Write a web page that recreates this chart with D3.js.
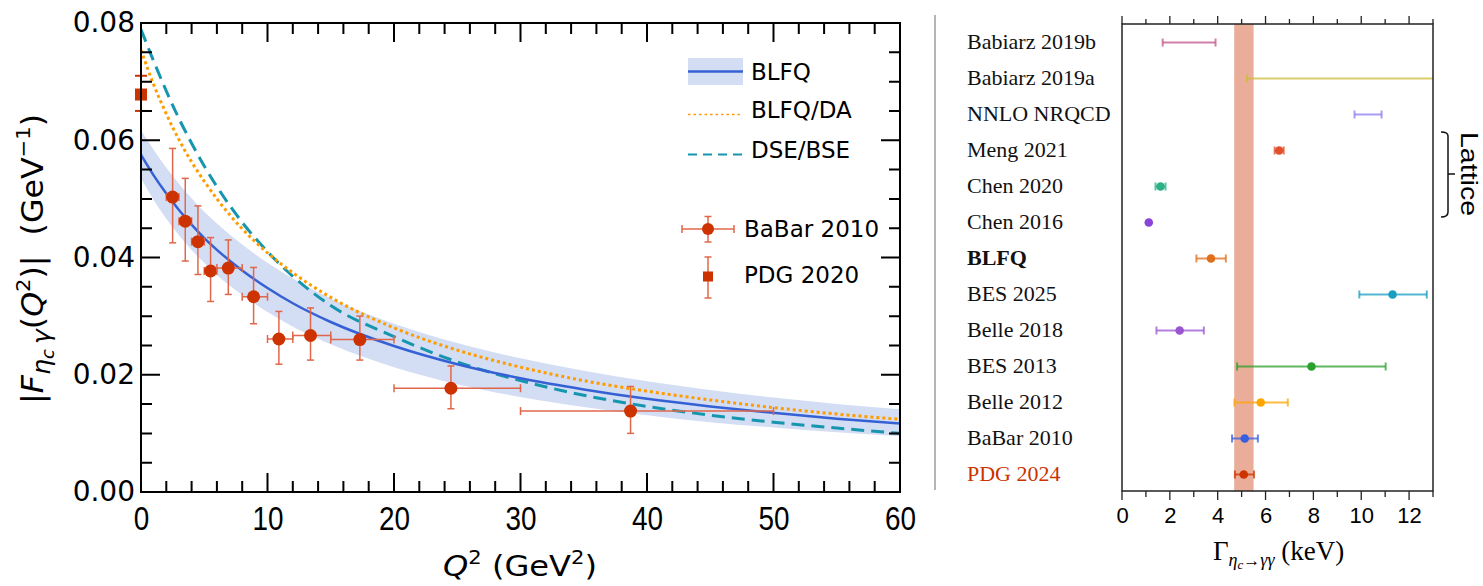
<!DOCTYPE html>
<html>
<head>
<meta charset="utf-8">
<script src="https://cdn.jsdelivr.net/npm/d3@7"></script>
<style>
body { margin:0; background:#fff; }
svg { display:block; }
.sans { font-family: "DejaVu Sans", "Liberation Sans", Arial, sans-serif; }
.serif { font-family: "Liberation Serif", "Times New Roman", serif; }
</style>
</head>
<body>
<svg id="chart" width="1483" height="586"></svg>
<script>

// ---- left panel: form factor vs Q^2 ----
var q2Grid     = [0, 1, 2, 3, 4, 5, 6, 8, 10, 12, 15, 20, 25, 30, 35, 40, 45, 50, 55, 60];
var blfqF      = [0.0575, 0.0540, 0.0509, 0.0481, 0.0456, 0.0433, 0.0413, 0.0378, 0.0348, 0.0322, 0.0290, 0.0249, 0.0218, 0.0194, 0.0175, 0.0159, 0.0146, 0.0135, 0.0125, 0.0117];
var blfqBandHi = [0.0617, 0.0584, 0.0553, 0.0526, 0.0501, 0.0478, 0.0458, 0.0422, 0.0391, 0.0364, 0.0330, 0.0287, 0.0254, 0.0228, 0.0207, 0.0189, 0.0174, 0.0161, 0.0150, 0.0141];
var blfqBandLo = [0.0535, 0.0498, 0.0466, 0.0438, 0.0413, 0.0391, 0.0370, 0.0336, 0.0307, 0.0282, 0.0252, 0.0213, 0.0184, 0.0162, 0.0145, 0.0131, 0.0119, 0.0110, 0.0102, 0.0095];
var blfqDaF    = [0.0754, 0.0695, 0.0645, 0.0601, 0.0563, 0.0530, 0.0500, 0.0449, 0.0408, 0.0374, 0.0332, 0.0280, 0.0242, 0.0213, 0.0190, 0.0172, 0.0157, 0.0144, 0.0133, 0.0124];
var dseBseF    = [0.0789, 0.0735, 0.0684, 0.0637, 0.0595, 0.0556, 0.0521, 0.0460, 0.0410, 0.0368, 0.0318, 0.0265, 0.0222, 0.0190, 0.0165, 0.0146, 0.0131, 0.0119, 0.0109, 0.0100];

var babarQ2   = [2.5, 3.5, 4.5, 5.5, 6.9, 8.9, 10.9, 13.4, 17.3, 24.5, 38.7];
var babarQ2Lo = [2, 3, 4, 5, 6, 8, 10, 12, 15, 20, 30];
var babarQ2Hi = [3, 4, 5, 6, 8, 10, 12, 15, 20, 30, 50];
var babarF    = [0.0503, 0.0462, 0.0427, 0.0377, 0.0382, 0.0333, 0.0261, 0.0267, 0.0260, 0.0177, 0.0138];
var babarFHi  = [0.0586, 0.0535, 0.0488, 0.0434, 0.0430, 0.0383, 0.0308, 0.0314, 0.0300, 0.0215, 0.0180];
var babarFLo  = [0.0425, 0.0394, 0.0371, 0.0325, 0.0337, 0.0287, 0.0218, 0.0225, 0.0225, 0.0142, 0.0100];

var pdgQ2  = [0];
var pdgF   = [0.0678];
var pdgFHi = [0.0710];
var pdgFLo = [0.0650];

var xTicksLeft  = [0, 10, 20, 30, 40, 50, 60];
var xMinorLeft  = [2, 4, 6, 8, 12, 14, 16, 18, 22, 24, 26, 28, 32, 34, 36, 38, 42, 44, 46, 48, 52, 54, 56, 58];
var yTicksLeft  = [0, 0.02, 0.04, 0.06, 0.08];
var yMinorLeft  = [0.005, 0.01, 0.015, 0.025, 0.03, 0.035, 0.045, 0.05, 0.055, 0.065, 0.07, 0.075];

// ---- right panel: two-photon width ----
var widthLabels  = ['Babiarz 2019b', 'Babiarz 2019a', 'NNLO NRQCD', 'Meng 2021', 'Chen 2020', 'Chen 2016', 'BLFQ',
                    'BES 2025', 'Belle 2018', 'BES 2013', 'Belle 2012', 'BaBar 2010', 'PDG 2024'];
var widthCentral = [null, null, null, 6.57, 1.61, 1.12, 3.72, 11.31, 2.41, 7.92, 5.80, 5.13, 5.09];
var widthLow     = [1.70, 5.22, 9.72, 6.38, 1.40, null, 3.11, 9.92, 1.44, 4.81, 4.70, 4.60, 4.72];
var widthHigh    = [3.91, 15.0, 10.85, 6.76, 1.82, null, 4.34, 12.74, 3.42, 11.02, 6.93, 5.68, 5.52];
var pdgBand      = [4.69, 5.50];
var xTicksRight  = [0, 2, 4, 6, 8, 10, 12];
var xMinorRight  = [1, 3, 5, 7, 9, 11, 13];

var rowColours = ['#c2558a', '#cdbb3c', '#8a7cf0', '#e0502a', '#2bb088', '#8a44d8', '#e06e1a',
                  '#1a9ec0', '#9b55d0', '#2ca02c', '#ffa500', '#3a5ee0', '#cc3300'];

var svg = d3.select('#chart');

var xL = d3.scaleLinear().domain([0, 60]).range([141, 900]);
var yL = d3.scaleLinear().domain([0, 0.08]).range([492, 23]);

mkFormFactor(svg, xL, yL);
mkWidths(svg);

// separator between the two panels
svg.append('line')
	.attr('x1', 935).attr('x2', 935)
	.attr('y1', 15).attr('y2', 490)
	.attr('stroke', '#b4b4b4')
	.attr('stroke-width', 2);

// left panel ticks, pointing inward on all four sides (drawn last, on top)
var leftTickPath = d3.path();
addXTicks(leftTickPath, xL, xTicksLeft, 491, -18);
addXTicks(leftTickPath, xL, xMinorLeft, 491, -10);
addXTicks(leftTickPath, xL, xTicksLeft, 24, 18);
addXTicks(leftTickPath, xL, xMinorLeft, 24, 10);
addYTicks(leftTickPath, yL, yTicksLeft, 142, 18);
addYTicks(leftTickPath, yL, yMinorLeft, 142, 10);
addYTicks(leftTickPath, yL, yTicksLeft, 899, -18);
addYTicks(leftTickPath, yL, yMinorLeft, 899, -10);
svg.append('path')
	.attr('d', leftTickPath.toString())
	.attr('stroke', 'black')
	.attr('stroke-width', 2)
	.attr('fill', 'none');


function richText(text, parts) {
	parts.forEach(function (p) {
		var ts = text.append('tspan').text(p.t);
		if (p.it) ts.style('font-style', 'italic');
		if (p.fs) ts.attr('font-size', p.fs);
		if (p.dy) ts.attr('dy', p.dy);
	});
}

// tick marks from a scale, added to a d3.path: horizontal-axis ticks start at y0 and run len
function addXTicks(p, scale, vals, y0, len) {
	vals.forEach(function (d) { p.moveTo(scale(d), y0); p.lineTo(scale(d), y0 + len); });
}
function addYTicks(p, scale, vals, x0, len) {
	vals.forEach(function (d) { p.moveTo(x0, scale(d)); p.lineTo(x0 + len, scale(d)); });
}

// label-only axis
function labelAxis(parent, axis, at, vals, fmt, pad, fs, family) {
	var a = parent.append('g').attr('transform', at)
		.call(axis.tickValues(vals).tickSize(0).tickPadding(pad).tickFormat(fmt));
	a.select('.domain').remove();
	a.selectAll('.tick line').remove();
	a.selectAll('.tick text')
		.attr('fill', '#000')
		.attr('font-size', fs)
		.attr('font-family', family);
	return a;
}

function mkFormFactor(svg, x, y) {
	var idx = d3.range(q2Grid.length);

	var g = svg.append('g').attr('class', 'sans');

	g.append('clipPath').attr('id', 'clipL')
		.append('rect')
			.attr('x', 141).attr('y', 23)
			.attr('width', 759).attr('height', 469);

	var plot = g.append('g').attr('clip-path', 'url(#clipL)');

	// uncertainty band
	plot.append('path')
		.attr('d', d3.area()
			.x(function (i) { return x(q2Grid[i]); })
			.y0(function (i) { return y(blfqBandLo[i]); })
			.y1(function (i) { return y(blfqBandHi[i]); })
			.curve(d3.curveMonotoneX)(idx))
		.attr('fill', '#d3ddf3');

	function curve(vals) {
		return d3.line()
			.x(function (i) { return x(q2Grid[i]); })
			.y(function (i) { return y(vals[i]); })
			.curve(d3.curveMonotoneX)(idx);
	}

	plot.append('path').attr('d', curve(dseBseF))
		.attr('fill', 'none').attr('stroke', '#1596ae')
		.attr('stroke-width', 3).attr('stroke-dasharray', '13,7');
	plot.append('path').attr('d', curve(blfqDaF))
		.attr('fill', 'none').attr('stroke', '#ff9c00')
		.attr('stroke-width', 3).attr('stroke-dasharray', '3,3');
	plot.append('path').attr('d', curve(blfqF))
		.attr('fill', 'none').attr('stroke', '#3561d4')
		.attr('stroke-width', 2.5);

	// BaBar 2010 points
	var errCol = '#e0674a';
	var pts = plot.selectAll('g.babar').data(d3.range(babarQ2.length)).enter()
		.append('g').attr('class', 'babar');
	pts.append('line')
		.attr('x1', function (i) { return x(babarQ2[i]); })
		.attr('x2', function (i) { return x(babarQ2[i]); })
		.attr('y1', function (i) { return y(babarFLo[i]); })
		.attr('y2', function (i) { return y(babarFHi[i]); })
		.attr('stroke', errCol).attr('stroke-width', 1.5);
	pts.append('line')
		.attr('x1', function (i) { return x(babarQ2Lo[i]); })
		.attr('x2', function (i) { return x(babarQ2Hi[i]); })
		.attr('y1', function (i) { return y(babarF[i]); })
		.attr('y2', function (i) { return y(babarF[i]); })
		.attr('stroke', errCol).attr('stroke-width', 1.5);
	[babarFLo, babarFHi].forEach(function (arr) {
		pts.append('line')
			.attr('x1', function (i) { return x(babarQ2[i]) - 3.5; })
			.attr('x2', function (i) { return x(babarQ2[i]) + 3.5; })
			.attr('y1', function (i) { return y(arr[i]); })
			.attr('y2', function (i) { return y(arr[i]); })
			.attr('stroke', errCol).attr('stroke-width', 1.5);
	});
	[babarQ2Lo, babarQ2Hi].forEach(function (arr) {
		pts.append('line')
			.attr('x1', function (i) { return x(arr[i]); })
			.attr('x2', function (i) { return x(arr[i]); })
			.attr('y1', function (i) { return y(babarF[i]) - 4; })
			.attr('y2', function (i) { return y(babarF[i]) + 4; })
			.attr('stroke', errCol).attr('stroke-width', 1.5);
	});
	pts.append('circle')
		.attr('cx', function (i) { return x(babarQ2[i]); })
		.attr('cy', function (i) { return y(babarF[i]); })
		.attr('r', 6.5)
		.attr('fill', '#cc3300');

	// PDG 2020 at Q2 = 0 (drawn unclipped, sits on the axis)
	var pdg = g.selectAll('g.pdg').data(d3.range(pdgQ2.length)).enter()
		.append('g').attr('class', 'pdg');
	pdg.append('line')
		.attr('x1', function (i) { return x(pdgQ2[i]); })
		.attr('x2', function (i) { return x(pdgQ2[i]); })
		.attr('y1', function (i) { return y(pdgFLo[i]); })
		.attr('y2', function (i) { return y(pdgFHi[i]); })
		.attr('stroke', '#cc3300').attr('stroke-width', 2);
	[pdgFLo, pdgFHi].forEach(function (arr) {
		pdg.append('line')
			.attr('x1', function (i) { return x(pdgQ2[i]) - 6; })
			.attr('x2', function (i) { return x(pdgQ2[i]) + 6; })
			.attr('y1', function (i) { return y(arr[i]); })
			.attr('y2', function (i) { return y(arr[i]); })
			.attr('stroke', '#cc3300').attr('stroke-width', 2);
	});
	pdg.append('rect')
		.attr('x', function (i) { return x(pdgQ2[i]) - 6; })
		.attr('y', function (i) { return y(pdgF[i]) - 6; })
		.attr('width', 12).attr('height', 12)
		.attr('fill', '#cc3300');

	var xl = labelAxis(g, d3.axisBottom(x), 'translate(0,492)', xTicksLeft, d3.format('d'), 15, 33,
		'"Liberation Sans Narrow", "Liberation Sans", Arial, sans-serif');
	xl.selectAll('.tick text')
		.attr('textLength', function (d) { return 15.5 * String(d).length; })
		.attr('lengthAdjust', 'spacingAndGlyphs');
	labelAxis(g, d3.axisLeft(y), 'translate(141,0)', yTicksLeft, d3.format('.2f'), 6, 28,
		'"DejaVu Sans", "Liberation Sans", Arial, sans-serif');

	g.append('rect')
		.attr('x', 141).attr('y', 23)
		.attr('width', 759).attr('height', 469)
		.attr('fill', 'none').attr('stroke', '#000').attr('stroke-width', 2);

	// axis titles
	var yt = g.append('text')
		.attr('transform', 'translate(43,259) rotate(-90)')
		.attr('text-anchor', 'middle')
		.attr('font-size', 30);
	richText(yt, [
		{t: '|'}, {t: 'F', it: true},
		{t: 'η', it: true, fs: 24, dy: 7}, {t: 'c', it: true, fs: 17, dy: 4}, {t: '\u2009γ', it: true, fs: 24, dy: -4},
		{t: '(', dy: -7}, {t: 'Q', it: true}, {t: '2', fs: 20, dy: -13},
		{t: ')|\u00a0\u00a0(GeV', dy: 13}, {t: '\u22121', fs: 20, dy: -13}, {t: ')', dy: 13}
	]);
	yt.attr('textLength', 290).attr('lengthAdjust', 'spacingAndGlyphs');

	var xt = g.append('text')
		.attr('x', 520).attr('y', 576)
		.attr('text-anchor', 'middle')
		.attr('font-size', 29);
	richText(xt, [
		{t: 'Q', it: true}, {t: '2', fs: 19, dy: -12},
		{t: '\u00a0(GeV', dy: 12}, {t: '2', fs: 19, dy: -12}, {t: ')', dy: 12}
	]);
	xt.attr('textLength', 154).attr('lengthAdjust', 'spacingAndGlyphs');

	// legend
	var lg = g.append('g').attr('font-size', 23);
	lg.append('rect').attr('x', 688).attr('y', 58).attr('width', 55).attr('height', 27).attr('fill', '#d3ddf3');
	lg.append('line').attr('x1', 688).attr('x2', 743).attr('y1', 71.5).attr('y2', 71.5)
		.attr('stroke', '#3561d4').attr('stroke-width', 2.5);
	lg.append('line').attr('x1', 688).attr('x2', 741).attr('y1', 114.5).attr('y2', 114.5)
		.attr('stroke', '#ff9c00').attr('stroke-width', 1.6).attr('stroke-dasharray', '2.5,3');
	lg.append('line').attr('x1', 688).attr('x2', 742).attr('y1', 154.5).attr('y2', 154.5)
		.attr('stroke', '#1596ae').attr('stroke-width', 2).attr('stroke-dasharray', '9,6');
	lg.append('text').attr('x', 751).attr('y', 80).text('BLFQ');
	lg.append('text').attr('x', 751).attr('y', 118).text('BLFQ/DA');
	lg.append('text').attr('x', 751).attr('y', 158).text('DSE/BSE');

	lg.append('line').attr('x1', 682).attr('x2', 734).attr('y1', 229).attr('y2', 229).attr('stroke', errCol).attr('stroke-width', 1.5);
	lg.append('line').attr('x1', 708).attr('x2', 708).attr('y1', 216.5).attr('y2', 242).attr('stroke', errCol).attr('stroke-width', 1.5);
	lg.append('line').attr('x1', 682).attr('x2', 682).attr('y1', 225).attr('y2', 233).attr('stroke', errCol).attr('stroke-width', 1.5);
	lg.append('line').attr('x1', 734).attr('x2', 734).attr('y1', 225).attr('y2', 233).attr('stroke', errCol).attr('stroke-width', 1.5);
	lg.append('line').attr('x1', 704.5).attr('x2', 711.5).attr('y1', 216.5).attr('y2', 216.5).attr('stroke', errCol).attr('stroke-width', 1.5);
	lg.append('line').attr('x1', 704.5).attr('x2', 711.5).attr('y1', 242).attr('y2', 242).attr('stroke', errCol).attr('stroke-width', 1.5);
	lg.append('circle').attr('cx', 708).attr('cy', 229).attr('r', 6).attr('fill', '#cc3300');
	lg.append('text').attr('x', 744).attr('y', 237).text('BaBar 2010');

	lg.append('line').attr('x1', 708).attr('x2', 708).attr('y1', 257).attr('y2', 298).attr('stroke', errCol).attr('stroke-width', 1.5);
	lg.append('line').attr('x1', 704.5).attr('x2', 711.5).attr('y1', 257).attr('y2', 257).attr('stroke', errCol).attr('stroke-width', 1.5);
	lg.append('line').attr('x1', 704.5).attr('x2', 711.5).attr('y1', 298).attr('y2', 298).attr('stroke', errCol).attr('stroke-width', 1.5);
	lg.append('rect').attr('x', 703).attr('y', 271.5).attr('width', 10).attr('height', 10).attr('fill', '#cc3300');
	lg.append('text').attr('x', 744).attr('y', 283).text('PDG 2020');
}

function mkWidths(svg) {
	var x = d3.scaleLinear().domain([0, 13]).range([1122, 1433]);
	var y = d3.scaleBand().domain(widthLabels).range([24.5, 492.5]);
	var rows = d3.range(widthLabels.length);
	var g = svg.append('g');

	g.append('clipPath').attr('id', 'clipR')
		.append('rect')
			.attr('x', 1122).attr('y', 24)
			.attr('width', 311).attr('height', 467);

	// PDG average band
	g.append('rect')
		.attr('x', x(pdgBand[0])).attr('width', x(pdgBand[1]) - x(pdgBand[0]))
		.attr('y', 24).attr('height', 467)
		.attr('fill', '#e9ad99');

	var plot = g.append('g').attr('clip-path', 'url(#clipR)');
	var rg = plot.selectAll('g.row').data(rows).enter()
		.append('g').attr('class', 'row')
		.attr('transform', function (i) { return 'translate(0,' + (y(widthLabels[i]) + y.bandwidth() / 2) + ')'; });

	var withErr = rg.filter(function (i) { return widthLow[i] != null; });
	withErr.append('line')
		.attr('x1', function (i) { return x(widthLow[i]); })
		.attr('x2', function (i) { return x(widthHigh[i]); })
		.attr('stroke', function (i) { return rowColours[i]; })
		.attr('stroke-opacity', 0.75)
		.attr('stroke-width', 2);
	[widthLow, widthHigh].forEach(function (arr) {
		withErr.append('line')
			.attr('x1', function (i) { return x(arr[i]); })
			.attr('x2', function (i) { return x(arr[i]); })
			.attr('y1', -4).attr('y2', 4)
			.attr('stroke', function (i) { return rowColours[i]; })
			.attr('stroke-opacity', 0.75)
			.attr('stroke-width', 2);
	});
	rg.filter(function (i) { return widthCentral[i] != null; })
		.append('circle')
		.attr('cx', function (i) { return x(widthCentral[i]); })
		.attr('r', 4.3)
		.attr('fill', function (i) { return rowColours[i]; });

	// labels
	g.selectAll('text.lab').data(rows).enter()
		.append('text').attr('class', 'lab serif')
		.attr('x', 967)
		.attr('y', function (i) { return y(widthLabels[i]) + y.bandwidth() / 2; })
		.attr('dy', '0.28em')
		.attr('font-size', 22)
		.attr('font-weight', function (i) { return widthLabels[i] === 'BLFQ' ? 'bold' : 'normal'; })
		.attr('fill', function (i) { return widthLabels[i] === 'PDG 2024' ? '#cc3300' : '#111'; })
		.text(function (i) { return widthLabels[i]; });

	// ticks pointing outward on top and bottom
	var tp = d3.path();
	addXTicks(tp, x, xTicksRight, 491, 9);
	addXTicks(tp, x, xMinorRight, 491, 6);
	addXTicks(tp, x, xTicksRight, 24, -8);
	addXTicks(tp, x, xMinorRight, 24, -5);
	g.append('path').attr('d', tp.toString())
		.attr('stroke', '#222').attr('stroke-width', 1.3).attr('fill', 'none');
	labelAxis(g, d3.axisBottom(x), 'translate(0,491)', xTicksRight, d3.format('d'), 16, 22,
		'"Liberation Sans", Arial, sans-serif');

	g.append('rect')
		.attr('x', 1122).attr('y', 24)
		.attr('width', 311).attr('height', 467)
		.attr('fill', 'none').attr('stroke', '#222').attr('stroke-width', 1.5);

	// x title
	var xt = g.append('text').attr('class', 'serif')
		.attr('x', 1213).attr('y', 560)
		.attr('font-size', 27);
	richText(xt, [
		{t: 'Γ'}, {t: 'η', it: true, fs: 18, dy: 6}, {t: 'c', it: true, fs: 13, dy: 3},
		{t: '→', fs: 17, dy: -3}, {t: 'γγ', it: true, fs: 18},
		{t: '\u00a0(keV)', fs: 27, dy: -6}
	]);

	// lattice bracket
	g.append('path')
		.attr('d', 'M1441,132 Q1448,132 1448,136 L1448,212 Q1448,217 1441,217 M1448,174 L1455,174')
		.attr('fill', 'none').attr('stroke', '#111').attr('stroke-width', 1.5);
	g.append('text')
		.attr('transform', 'translate(1461,174) rotate(90)')
		.attr('text-anchor', 'middle')
		.attr('font-family', '"Liberation Sans", Arial, sans-serif')
		.attr('font-size', 24)
		.attr('textLength', 84).attr('lengthAdjust', 'spacingAndGlyphs')
		.text('Lattice');
}
</script>
</body>
</html>
